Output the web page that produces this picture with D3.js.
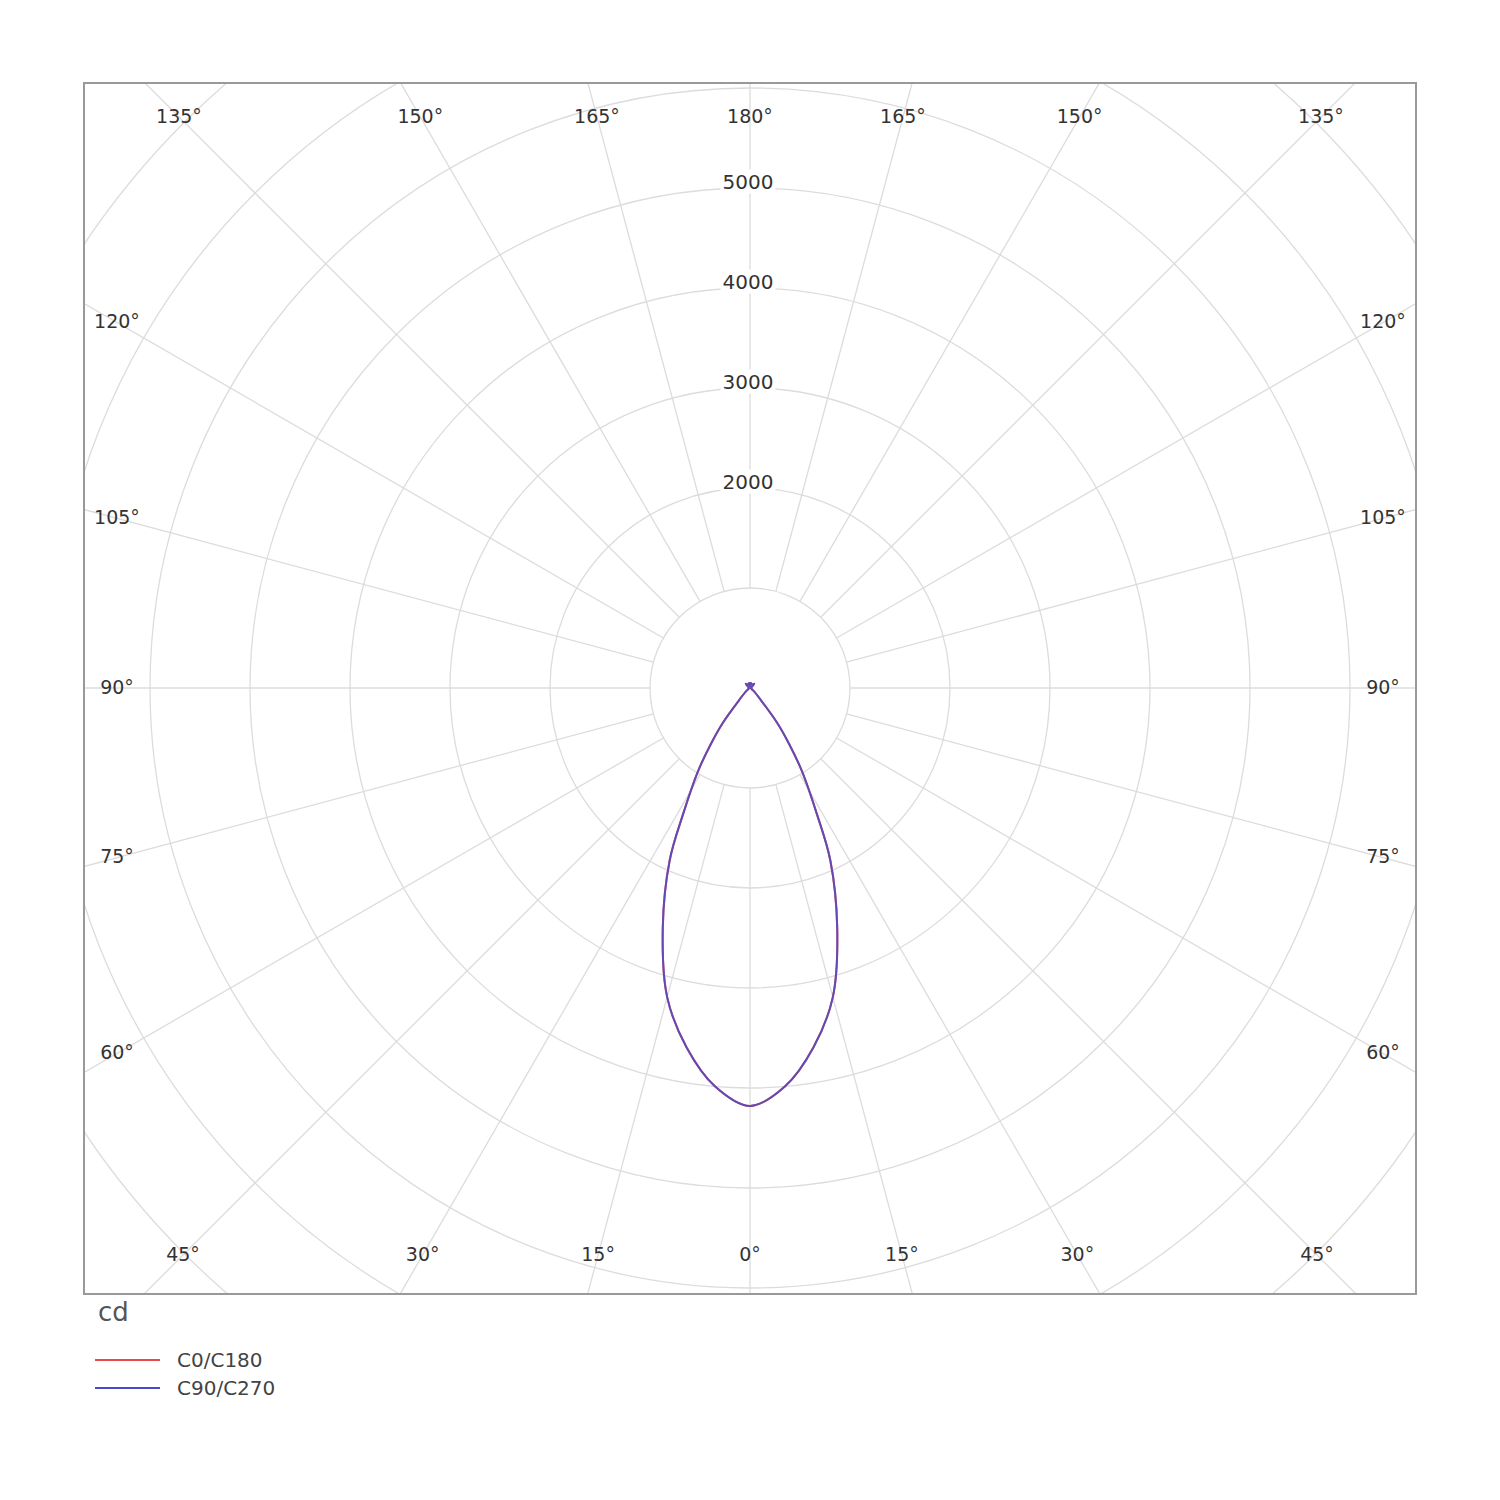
<!DOCTYPE html>
<html><head><meta charset="utf-8">
<script src="https://cdn.jsdelivr.net/npm/d3@7/dist/d3.min.js"></script>
<style>body{margin:0;background:#fff}text{font-family:"DejaVu Sans",sans-serif}</style>
</head><body><svg id="c" width="1500" height="1500"></svg>
<script>
const angles = [0,5,10,15,20,25,28,32,35,38,42,50,60,90,120,135,150,170,180];
const c0c180 = [4180,4000,3650,3200,2550,1900,1420,980,680,440,160,50,20,10,20,60,40,50,10];
const c90c270 = c0c180.slice();
const ringValues = [1000,2000,3000,4000,5000,6000,7000,8000,9000];
const ringLabels = [2000,3000,4000,5000];
const spokeAngles = d3.range(0,360,15);
const series = [{name:"C0/C180",color:"#e8474c",data:c0c180,op:1},{name:"C90/C270",color:"#4a4ac8",data:c90c270,op:0.85}];

const svg = d3.select("#c");
const cx=750, cy=688, L=84, T=83, R=1416, B=1294;
const r = d3.scaleLinear().domain([0,1000]).range([0,100]);
svg.append("clipPath").attr("id","clip").append("rect").attr("x",L).attr("y",T).attr("width",R-L).attr("height",B-T);
const g = svg.append("g").attr("clip-path","url(#clip)");
function pt(a,v){const t=a*Math.PI/180;return [cx+r(v)*Math.sin(t), cy+r(v)*Math.cos(t)];}
ringValues.forEach(v=>g.append("circle").attr("cx",cx).attr("cy",cy).attr("r",r(v)).attr("fill","none").attr("stroke","#dcdcdc").attr("stroke-width",1.3));
spokeAngles.forEach(a=>{const p1=pt(a,1000),p2=pt(a,20000);
 g.append("line").attr("x1",p1[0]).attr("y1",p1[1]).attr("x2",p2[0]).attr("y2",p2[1]).attr("stroke","#dcdcdc").attr("stroke-width",1.3);});
const line = d3.line().x(d=>d[0]).y(d=>d[1]).curve(d3.curveCatmullRom);
series.forEach(s=>{
 const pts=[];
 for(let i=angles.length-1;i>=0;i--) pts.push(pt(-angles[i],s.data[i]));
 for(let i=1;i<angles.length;i++) pts.push(pt(angles[i],s.data[i]));
 g.append("path").attr("d",line(pts)).attr("fill","none").attr("stroke",s.color).attr("stroke-width",2).attr("opacity",s.op);
});
svg.append("rect").attr("x",L).attr("y",T).attr("width",R-L).attr("height",B-T).attr("fill","none").attr("stroke","#999").attr("stroke-width",2);
ringLabels.forEach(v=>{
 const t=svg.append("text").attr("x",cx-2).attr("y",cy-r(v)-5).attr("text-anchor","middle").attr("dominant-baseline","middle").attr("font-size",20).attr("fill","#333").text(v);
 const bb=t.node().getBBox();
 svg.insert("rect","text:last-of-type").attr("x",bb.x-2).attr("y",bb.y).attr("width",bb.width+4).attr("height",bb.height).attr("fill","#fff");
});
const iL=117,iR=1383,iT=117,iB=1255;
for(let a=-165;a<=180;a+=15){
 const t=a*Math.PI/180, dx=Math.sin(t), dy=Math.cos(t);
 let k=Infinity;
 if(dx>1e-9)k=Math.min(k,(iR-cx)/dx); if(dx<-1e-9)k=Math.min(k,(iL-cx)/dx);
 if(dy>1e-9)k=Math.min(k,(iB-cy)/dy); if(dy<-1e-9)k=Math.min(k,(iT-cy)/dy);
 const x=cx+k*dx,y=cy+k*dy;
 svg.append("text").attr("x",x).attr("y",y).attr("text-anchor","middle").attr("dominant-baseline","middle").attr("font-size",19).attr("fill","#333").text(Math.abs(a)+"°");
}
svg.append("text").attr("x",98).attr("y",1321).attr("font-size",26).attr("fill","#555").text("cd");
series.forEach((s,i)=>{const y=1360+i*28;
 svg.append("line").attr("x1",95).attr("x2",160).attr("y1",y).attr("y2",y).attr("stroke",s.color).attr("stroke-width",2);
 svg.append("text").attr("x",177).attr("y",y+7).attr("font-size",20).attr("fill","#444").text(s.name);});
</script></body></html>
